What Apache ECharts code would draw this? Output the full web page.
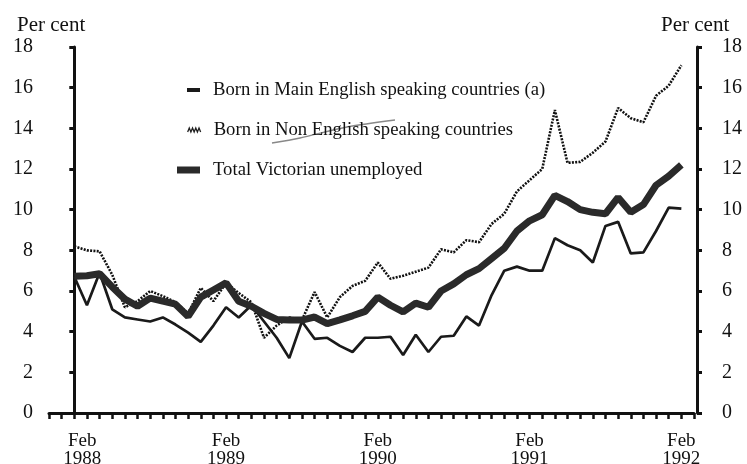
<!DOCTYPE html>
<html>
<head>
<meta charset="utf-8">
<script src="https://cdn.jsdelivr.net/npm/echarts@6/dist/echarts.min.js"></script>
<style>
  html, body { margin: 0; padding: 0; background: #fff; }
  #chart { width: 747px; height: 464px; }
</style>
</head>
<body>
<div id="chart"></div>
<script>
// monthly values, Feb 1988 (index 0) .. Feb 1992 (index 48), per cent
var mainEnglish = [6.7, 5.3, 6.9, 5.1, 4.7, 4.6, 4.5, 4.7, 4.35, 3.95,
  3.5, 4.3, 5.2, 4.7, 5.3, 4.5, 3.7, 2.7, 4.5, 3.65,
  3.7, 3.3, 3.0, 3.7, 3.7, 3.75, 2.85, 3.85, 3.0, 3.75,
  3.8, 4.75, 4.3, 5.8, 7.0, 7.2, 7.0, 7.0, 8.6, 8.25,
  8.0, 7.4, 9.2, 9.4, 7.85, 7.9, 8.95, 10.1, 10.05];
var nonEnglish = [8.2, 8.0, 7.95, 6.8, 5.2, 5.5, 6.0, 5.75, 5.45, 4.9,
  6.15, 5.5, 6.4, 5.9, 5.45, 3.7, 4.3, 4.7, 4.57, 5.95,
  4.7, 5.7, 6.25, 6.5, 7.4, 6.6, 6.75, 6.95, 7.15, 8.05,
  7.9, 8.5, 8.4, 9.3, 9.8, 10.9, 11.45, 12.0, 14.9, 12.3,
  12.35, 12.8, 13.35, 15.0, 14.5, 14.3, 15.6, 16.1, 17.1];
var totalVic = [6.72, 6.75, 6.85, 6.2, 5.6, 5.25, 5.65, 5.5, 5.35, 4.75,
  5.7, 6.05, 6.4, 5.5, 5.25, 4.9, 4.6, 4.57, 4.57, 4.72,
  4.4, 4.58, 4.78, 5.0, 5.7, 5.3, 4.97, 5.4, 5.2, 6.0,
  6.35, 6.8, 7.1, 7.6, 8.1, 8.95, 9.45, 9.75, 10.7, 10.4,
  10.0, 9.87, 9.8, 10.6, 9.87, 10.25, 11.2, 11.65, 12.2];

var febIndex = [0, 12, 24, 36, 48];
var febLabels = ['Feb\n1988', 'Feb\n1989', 'Feb\n1990', 'Feb\n1991', 'Feb\n1992'];

var names = ['Born in Main English speaking countries (a)',
  'Born in Non English speaking countries',
  'Total Victorian unemployed'];

var serif = 'Liberation Serif';
var ink = '#111';

function pairs(arr) {
  return arr.map(function (v, i) { return [i, v]; });
}

function legendAt(name, left, top, w, h, icon, style) {
  return {
    data: [{ name: name, icon: icon }],
    left: left, top: top, padding: 0,
    itemWidth: w, itemHeight: h,
    symbolKeepAspect: false,
    itemStyle: style,
    textStyle: { fontFamily: serif, fontSize: 18.7, color: ink, lineHeight: 20, padding: [0, 0, 0, 8] }
  };
}

var yAxisBase = {
  type: 'value', min: 0, max: 18, interval: 2,
  splitLine: { show: false },
  axisLine: { show: true, lineStyle: { color: ink, width: 3 } },
  axisTick: { show: true, length: 5, lineStyle: { color: ink, width: 3 } },
  axisLabel: { fontFamily: serif, fontSize: 20, color: ink }
};

var chart = echarts.init(document.getElementById('chart'));
chart.setOption({
  animation: false,
  backgroundColor: '#fff',
  title: [
    { text: 'Per cent', left: 12, top: 10, textStyle: { fontFamily: serif, fontSize: 21, fontWeight: 'normal', color: ink } },
    { text: 'Per cent', left: 656, top: 10, textStyle: { fontFamily: serif, fontSize: 21, fontWeight: 'normal', color: ink } }
  ],
  legend: [
    legendAt(names[0], 187, 80, 13, 4, 'rect', { color: '#1a1a1a' }),
    legendAt(names[1], 187, 120, 13, 4, 'path://M0,3 L1.6,0 L3.2,3 L4.8,0 L6.4,3 L8,0 L9.6,3 L11.2,0 L12.8,3',
      { color: 'rgba(0,0,0,0)', borderColor: '#222', borderWidth: 1.3 }),
    legendAt(names[2], 177, 160, 23, 7, 'rect', { color: '#2a2a2a' })
  ],
  grid: { left: 49, right: 53, top: 47, bottom: 51, outerBoundsMode: 'none', containLabel: false },
  xAxis: {
    type: 'value', min: -2, max: 49, interval: 1,
    splitLine: { show: false },
    axisLine: { show: true, onZero: false, lineStyle: { color: ink, width: 3 } },
    axisTick: { show: true, length: 6, lineStyle: { color: ink, width: 2.5 } },
    axisLabel: {
      margin: 19, fontFamily: serif, fontSize: 19, color: ink, lineHeight: 18,
      formatter: function (v) {
        var k = febIndex.indexOf(v);
        if (k < 0) return '';
        if (k === 0) return febLabels[0].split('\n').map(function (s) { return '{first|' + s + '}'; }).join('\n');
        return febLabels[k];
      },
      rich: { first: { fontFamily: serif, fontSize: 19, color: ink, lineHeight: 18, padding: [0, 0, 0, 16] } }
    }
  },
  yAxis: [
    Object.assign({}, yAxisBase, { position: 'left', offset: -3,
      axisLabel: Object.assign({}, yAxisBase.axisLabel, { margin: 19 }) }),
    Object.assign({}, yAxisBase, { position: 'right', offset: 3,
      axisLabel: Object.assign({}, yAxisBase.axisLabel, { margin: 25 }) })
  ],
  series: [
    {
      name: names[0], type: 'line', data: pairs(mainEnglish),
      showSymbol: false, color: '#1a1a1a',
      lineStyle: { color: '#1a1a1a', width: 2.7 }
    },
    {
      name: names[1], type: 'line', data: pairs(nonEnglish),
      showSymbol: false, color: '#111',
      lineStyle: { color: '#111', width: 2.6, type: [2, 1.3] }
    },
    {
      name: names[2], type: 'line', data: pairs(totalVic),
      showSymbol: false, color: '#2a2a2a',
      lineStyle: { color: '#2a2a2a', width: 7 }
    }
  ],
  graphic: [{
    type: 'polyline', silent: true,
    shape: { points: [[272, 143], [300, 138], [347, 127], [395, 120]], smooth: 0.3 },
    style: { stroke: '#888', lineWidth: 1.4, fill: null }
  }]
});
</script>
</body>
</html>
